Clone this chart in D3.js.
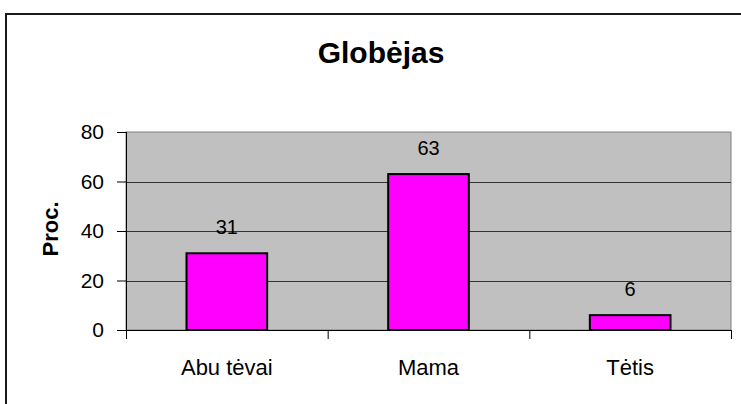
<!DOCTYPE html>
<html lang="lt">
<head>
<meta charset="UTF-8">
<script src="https://d3js.org/d3.v7.min.js"></script>
<style>
  body { margin: 0; background: #fff; }
  svg { display: block; font-family: "Liberation Sans", Arial, sans-serif; }
  .axis path, .axis line { stroke: #000; }
</style>
</head>
<body>
<div id="chart"></div>
<script>
// chart data
var categories = ["Abu tėvai", "Mama", "Tėtis"];
var values = [31, 63, 6];
var yTicks = [0, 20, 40, 60, 80];
var title = "Globėjas";
var yTitle = "Proc.";

var width = 741, height = 404;
var plot = { left: 126, right: 731, top: 132, bottom: 330 };

var svg = d3.select("#chart").append("svg")
    .attr("width", width)
    .attr("height", height);

// outer chart border (runs off the right and bottom edges)
svg.append("rect")
    .attr("x", 6).attr("y", 14)
    .attr("width", 900).attr("height", 600)
    .attr("fill", "#fff")
    .attr("stroke", "#1a1a1a")
    .attr("stroke-width", 2);

var x = d3.scaleBand()
    .domain(categories)
    .range([plot.left, plot.right])
    .paddingInner(0.6)
    .paddingOuter(0.3);

// boundaries between categories, for the bottom tick marks
var xEdge = d3.scaleLinear()
    .domain([0, categories.length])
    .range([plot.left, plot.right]);

var y = d3.scaleLinear()
    .domain([0, 80])
    .range([plot.bottom, plot.top]);

// grey plot area
svg.append("rect")
    .attr("x", plot.left).attr("y", plot.top)
    .attr("width", plot.right - plot.left)
    .attr("height", plot.bottom - plot.top)
    .attr("fill", "#c0c0c0")
    .attr("stroke", "#808080")
    .attr("stroke-width", 1);

// gridlines
svg.append("g")
    .selectAll("line")
    .data(yTicks.filter(function (d) { return d > 0 && d < 80; }))
    .enter().append("line")
    .attr("x1", plot.left).attr("x2", plot.right)
    .attr("y1", function (d) { return Math.round(y(d)) + 0.5; })
    .attr("y2", function (d) { return Math.round(y(d)) + 0.5; })
    .attr("stroke", "#333")
    .attr("stroke-width", 1);

// bars
svg.append("g")
    .selectAll("rect")
    .data(values)
    .enter().append("rect")
    .attr("x", function (d, i) { return x(categories[i]); })
    .attr("y", function (d) { return y(d); })
    .attr("width", x.bandwidth())
    .attr("height", function (d) { return y(0) - y(d); })
    .attr("fill", "#ff00ff")
    .attr("stroke", "#000")
    .attr("stroke-width", 2);

// value labels
svg.append("g")
    .selectAll("text")
    .data(values)
    .enter().append("text")
    .attr("x", function (d, i) { return x(categories[i]) + x.bandwidth() / 2; })
    .attr("y", function (d) { return y(d) - 19; })
    .attr("text-anchor", "middle")
    .style("font-size", "20px")
    .attr("fill", "#000")
    .text(function (d) { return d; });

// y axis
var yAxis = svg.append("g")
    .attr("class", "axis")
    .attr("transform", "translate(" + plot.left + ",0)")
    .call(d3.axisLeft(y).tickValues(yTicks).tickSize(9).tickPadding(13).tickSizeOuter(0));
yAxis.select(".domain").attr("d", "M0.5," + plot.top + "V" + (plot.bottom + 9));
yAxis.selectAll("text").style("font-size", "21px").attr("fill", "#000");

// x axis tick marks at the category boundaries
var xAxis = svg.append("g")
    .attr("class", "axis")
    .attr("transform", "translate(0," + plot.bottom + ")")
    .call(d3.axisBottom(xEdge).tickValues(d3.range(categories.length + 1)).tickSize(9).tickFormat("").tickSizeOuter(0));
xAxis.select(".domain").attr("d", "M" + plot.left + ",0.5H" + plot.right);

// category labels
svg.append("g")
    .selectAll("text")
    .data(categories)
    .enter().append("text")
    .attr("x", function (d) { return x(d) + x.bandwidth() / 2; })
    .attr("y", 375)
    .attr("text-anchor", "middle")
    .style("font-size", "22px")
    .attr("fill", "#000")
    .text(function (d) { return d; });

// title
svg.append("text")
    .attr("x", 381).attr("y", 63)
    .attr("text-anchor", "middle")
    .style("font-size", "30px")
    .style("font-weight", "bold")
    .text(title);

// y axis title
svg.append("text")
    .attr("transform", "translate(58,229) rotate(-90)")
    .attr("text-anchor", "middle")
    .style("font-size", "22px")
    .style("font-weight", "bold")
    .text(yTitle);
</script>
</body>
</html>
